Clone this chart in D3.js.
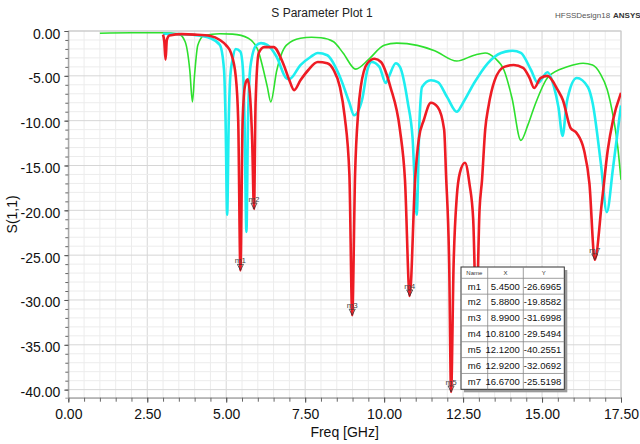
<!DOCTYPE html>
<html>
<head>
<meta charset="utf-8">
<script src="https://cdn.jsdelivr.net/npm/d3@7"></script>
<style>
  body { margin: 0; background: #fff; }
  svg { font-family: "Liberation Sans", Arial, sans-serif; }
</style>
</head>
<body>
<div id="chart"></div>
<script>
// S(1,1) traces, [freq GHz, dB]
const greenPts = [
  [1.0,-0.25],[2.0,-0.2],[3.0,-0.2],[3.5,-0.35],[3.7,-1.2],[3.85,-4.5],[3.93,-7.9],[4.0,-4.8],
  [4.1,-1.6],[4.3,-0.5],[4.8,-0.3],[5.2,-0.35],[5.7,-0.8],[6.0,-2.1],[6.3,-6.2],[6.41,-7.9],
  [6.6,-4.4],[6.9,-1.6],[7.35,-0.8],[7.7,-0.7],[8.0,-0.75],[8.4,-1.2],[8.7,-2.45],[9.1,-4.25],
  [9.5,-3.2],[10.0,-1.6],[10.4,-1.35],[11.05,-1.6],[11.6,-2.2],[12.3,-3.35],[12.85,-2.7],
  [13.2,-2.45],[13.5,-3.0],[13.8,-4.4],[14.05,-7.5],[14.33,-12.2],[14.55,-10.5],[14.75,-8.5],
  [15.2,-5.1],[15.8,-4.0],[16.3,-3.6],[16.6,-3.8],[16.85,-4.8],[17.06,-6.5],[17.25,-9.5],
  [17.4,-13],[17.5,-16.6]
];

const cyanPts = [
  [3.0,-0.3],[3.5,-0.35],[4.0,-0.45],[4.5,-0.8],[4.8,-1.55],[4.93,-4.3],[4.98,-10],[5.03,-20.5],
  [5.08,-10],[5.13,-5],[5.2,-3.2],[5.3,-2.0],[5.45,-2.3],[5.53,-4.3],[5.58,-10],[5.64,-22.4],
  [5.69,-10],[5.74,-5],[5.8,-3.2],[5.95,-1.6],[6.1,-1.35],[6.3,-1.55],[6.6,-2.9],[6.9,-5.25],
  [7.0,-5.36],[7.35,-3.8],[7.67,-2.9],[7.9,-2.45],[8.2,-2.7],[8.6,-5.1],[8.9,-8.0],[9.05,-9.4],
  [9.3,-7.7],[9.47,-4.35],[9.6,-3.46],[9.85,-4.0],[10.05,-5.8],[10.15,-5.1],[10.37,-3.6],
  [10.5,-4.0],[10.75,-8.0],[10.9,-11.9],[11.03,-20.5],[11.12,-10],[11.2,-6.25],[11.48,-5.5],
  [11.7,-5.7],[12.0,-7.4],[12.3,-9.0],[12.5,-8.0],[12.85,-5.8],[13.28,-3.6],[13.7,-2.45],
  [14.07,-2.2],[14.33,-2.45],[14.65,-4.35],[14.87,-5.8],[15.17,-4.6],[15.38,-6.25],[15.52,-8.5],
  [15.65,-11.7],[15.78,-8],[15.85,-6.9],[16.1,-5.25],[16.45,-6.25],[16.6,-8.0],[16.87,-15],
  [17.05,-20.2],[17.25,-15.2],[17.5,-8.3]
];

const redPts = [
  [3.0,-0.4],[3.04,-1.2],[3.08,-3.2],[3.12,-1.0],[3.2,-0.5],[3.6,-0.35],[4.0,-0.4],[4.5,-0.55],
  [4.8,-1.0],[5.0,-1.6],[5.15,-2.45],[5.3,-5.0],[5.38,-10],[5.45,-26.7],[5.52,-10],[5.6,-6.0],
  [5.68,-5.4],[5.76,-7.5],[5.82,-12],[5.88,-19.86],[5.93,-8],[6.03,-2.45],[6.2,-1.8],[6.5,-1.8],
  [6.8,-3.6],[7.0,-5.5],[7.15,-6.6],[7.35,-5.5],[7.6,-4.35],[7.9,-3.46],[8.2,-3.6],[8.4,-4.35],
  [8.6,-6.25],[8.75,-9.5],[8.9,-16],[8.99,-31.7],[9.08,-16],[9.18,-9],[9.26,-6.25],[9.47,-3.6],
  [9.7,-3.1],[9.9,-3.46],[10.2,-6.25],[10.5,-11],[10.66,-16.6],[10.81,-29.55],[10.98,-16.6],
  [11.1,-12],[11.26,-9.9],[11.48,-8.0],[11.7,-8.5],[11.9,-11],[11.96,-16],[12.06,-26],
  [12.12,-40.26],[12.2,-26],[12.3,-18.5],[12.4,-15.8],[12.56,-14.7],[12.7,-17],[12.82,-21],
  [12.92,-32.07],[13.02,-20],[13.1,-16.6],[13.2,-11],[13.3,-8.5],[13.5,-5.5],[13.8,-4.0],
  [14.1,-3.8],[14.4,-4.1],[14.6,-5.2],[14.75,-6.36],[14.95,-5.25],[15.17,-5.0],[15.5,-6.6],
  [15.66,-7.7],[15.9,-10.8],[16.1,-11.4],[16.33,-13.3],[16.5,-17],[16.67,-25.52],[16.9,-18.9],
  [17.08,-13.3],[17.25,-9.9],[17.5,-6.9]
];

// markers on the red trace
const markerNames = ["m1", "m2", "m3", "m4", "m5", "m6", "m7"];
const markerX = [5.45, 5.88, 8.99, 10.81, 12.12, 12.92, 16.67];
const markerY = [-26.6965, -19.8582, -31.6998, -29.5494, -40.2551, -32.0692, -25.5198];

const xTicks = [0, 2.5, 5, 7.5, 10, 12.5, 15, 17.5];
const yTicks = [0, -5, -10, -15, -20, -25, -30, -35, -40];

const W = 640, H = 444;
const pLeft = 68.3, pRight = 621, pTop = 31, pBottom = 397.7;

const x = d3.scaleLinear().domain([0, 17.5]).range([pLeft, pRight]);
const y = d3.scaleLinear().domain([-40.9, 0]).range([pBottom, pTop]);

const svg = d3.select("#chart").append("svg")
    .attr("width", W)
    .attr("height", H);

// grid
const grid = svg.append("g");
d3.range(0, 17.51, 0.5).forEach(v => {
    grid.append("line")
        .attr("x1", x(v)).attr("x2", x(v))
        .attr("y1", pTop).attr("y2", pBottom)
        .attr("stroke", v % 2.5 === 0 ? "#d6d6d6" : "#ececec")
        .attr("stroke-width", 1);
});
d3.range(-40, 0.1, 1).forEach(v => {
    grid.append("line")
        .attr("x1", pLeft).attr("x2", pRight)
        .attr("y1", y(v)).attr("y2", y(v))
        .attr("stroke", v % 5 === 0 ? "#d6d6d6" : "#ececec")
        .attr("stroke-width", 1);
});

// frame
svg.append("rect")
    .attr("x", pLeft).attr("y", pTop)
    .attr("width", pRight - pLeft).attr("height", pBottom - pTop)
    .attr("fill", "none")
    .attr("stroke", "#c8c8c8");

// axes
const fmt = d => d.toFixed(2);

svg.append("g")
    .attr("transform", `translate(0,${pBottom})`)
    .call(d3.axisBottom(x).tickValues(d3.range(0, 17.51, 0.5)).tickSize(4).tickFormat(""))
    .call(g => g.select(".domain").attr("stroke", "#999"))
    .call(g => g.selectAll(".tick line").attr("stroke", "#666"));

svg.append("g")
    .attr("transform", `translate(0,${pBottom})`)
    .call(d3.axisBottom(x).tickValues(xTicks).tickSize(5).tickPadding(6).tickFormat(fmt))
    .call(g => g.select(".domain").remove())
    .call(g => g.selectAll(".tick line").attr("stroke", "#555"))
    .call(g => g.selectAll("text").attr("font-size", 14).attr("fill", "#111")
        .attr("font-family", "'Liberation Sans', Arial, sans-serif"));

svg.append("g")
    .attr("transform", `translate(${pLeft},0)`)
    .call(d3.axisLeft(y).tickValues(d3.range(-40, 0.1, 1)).tickSize(3).tickFormat(""))
    .call(g => g.select(".domain").attr("stroke", "#999"))
    .call(g => g.selectAll(".tick line").attr("stroke", "#666"));

svg.append("g")
    .attr("transform", `translate(${pLeft},0)`)
    .call(d3.axisLeft(y).tickValues(yTicks).tickSize(4).tickPadding(4).tickFormat(fmt))
    .call(g => g.select(".domain").remove())
    .call(g => g.selectAll(".tick line").attr("stroke", "#555"))
    .call(g => g.selectAll("text").attr("font-size", 14).attr("fill", "#111").attr("dy", "0.5em")
        .attr("font-family", "'Liberation Sans', Arial, sans-serif"));

// traces
svg.append("clipPath").attr("id", "clip")
  .append("rect")
    .attr("x", pLeft).attr("y", pTop - 2)
    .attr("width", pRight - pLeft).attr("height", pBottom - pTop + 2);

const line = d3.line()
    .x(d => x(d[0]))
    .y(d => y(d[1]))
    .curve(d3.curveMonotoneX);

const traces = [
    { pts: greenPts, color: "#2ee02e", w: 1.6 },
    { pts: cyanPts, color: "#1eeef0", w: 2.6 },
    { pts: redPts, color: "#ee1c24", w: 2.6 }
];

const plot = svg.append("g").attr("clip-path", "url(#clip)");
traces.forEach(t => {
    plot.append("path")
        .datum(t.pts)
        .attr("fill", "none")
        .attr("stroke", t.color)
        .attr("stroke-width", t.w)
        .attr("stroke-linejoin", "round")
        .attr("d", line);
});

// marker table geometry (drawn later, over the markers)
const tX = 461, tY = 267, hdrH = 11.3, rowH = 15.86;
const colX = [461, 487.7, 523.3, 564.3];
const tH = hdrH + rowH * markerNames.length;

// marker symbols
markerNames.forEach((name, i) => {
    const mx = x(markerX[i]), my = y(markerY[i]);
    const hidden = mx > tX && mx < colX[3] && my > tY && my < tY + tH;
    if (hidden) return; // covered by the table
    svg.append("path")
        .attr("d", `M${mx - 3},${my - 6}L${mx + 3},${my - 6}L${mx},${my}Z`)
        .attr("fill", "none")
        .attr("stroke", "#333")
        .attr("stroke-width", 0.8);
    svg.append("text")
        .attr("x", mx)
        .attr("y", my - 7)
        .attr("text-anchor", "middle")
        .attr("font-size", 8)
        .attr("fill", "#444")
        .text(name);
});

// marker table
const table = svg.append("g");
table.append("rect")
    .attr("x", tX + 3).attr("y", tY + 3)
    .attr("width", colX[3] - tX).attr("height", tH)
    .attr("fill", "#9a9a9a");
table.append("rect")
    .attr("x", tX).attr("y", tY)
    .attr("width", colX[3] - tX).attr("height", tH)
    .attr("fill", "#fff")
    .attr("stroke", "#333").attr("stroke-width", 1);
[1, 2].forEach(c => {
    table.append("line")
        .attr("x1", colX[c]).attr("x2", colX[c])
        .attr("y1", tY).attr("y2", tY + tH)
        .attr("stroke", "#888").attr("stroke-width", 0.8);
});
d3.range(0, markerNames.length).forEach(r => {
    table.append("line")
        .attr("x1", tX).attr("x2", colX[3])
        .attr("y1", tY + hdrH + r * rowH).attr("y2", tY + hdrH + r * rowH)
        .attr("stroke", "#888").attr("stroke-width", 0.8);
});
const headers = ["Name", "X", "Y"];
headers.forEach((h, c) => {
    table.append("text")
        .attr("x", (colX[c] + colX[c + 1]) / 2)
        .attr("y", tY + 8)
        .attr("text-anchor", "middle")
        .attr("font-size", 6)
        .attr("fill", "#333")
        .text(h);
});
markerNames.forEach((name, r) => {
    const ty = tY + hdrH + r * rowH + rowH / 2 + 3.3;
    table.append("text")
        .attr("x", (colX[0] + colX[1]) / 2).attr("y", ty)
        .attr("text-anchor", "middle")
        .attr("font-size", 9.5).attr("fill", "#111")
        .text(name);
    table.append("text")
        .attr("x", colX[2] - 3.5).attr("y", ty)
        .attr("text-anchor", "end")
        .attr("font-size", 9.5).attr("fill", "#111")
        .text(markerX[r].toFixed(4));
    table.append("text")
        .attr("x", colX[3] - 3).attr("y", ty)
        .attr("text-anchor", "end")
        .attr("font-size", 9.5).attr("fill", "#111")
        .text(markerY[r].toFixed(4));
});

// titles
svg.append("text")
    .attr("x", 322).attr("y", 17)
    .attr("text-anchor", "middle")
    .attr("font-size", 12).attr("fill", "#222")
    .text("S Parameter Plot 1");
svg.append("text")
    .attr("x", 555).attr("y", 18)
    .attr("font-size", 8).attr("fill", "#555")
    .text("HFSSDesign18");
svg.append("text")
    .attr("x", 613).attr("y", 18)
    .attr("font-size", 8).attr("font-weight", "bold").attr("fill", "#333")
    .text("ANSYS");
svg.append("text")
    .attr("x", (pLeft + pRight) / 2).attr("y", 437)
    .attr("text-anchor", "middle")
    .attr("font-size", 14).attr("fill", "#111")
    .text("Freq [GHz]");
svg.append("text")
    .attr("transform", `translate(17,${(pTop + pBottom) / 2}) rotate(-90)`)
    .attr("text-anchor", "middle")
    .attr("font-size", 14).attr("fill", "#111")
    .text("S(1,1)");
</script>
</body>
</html>
